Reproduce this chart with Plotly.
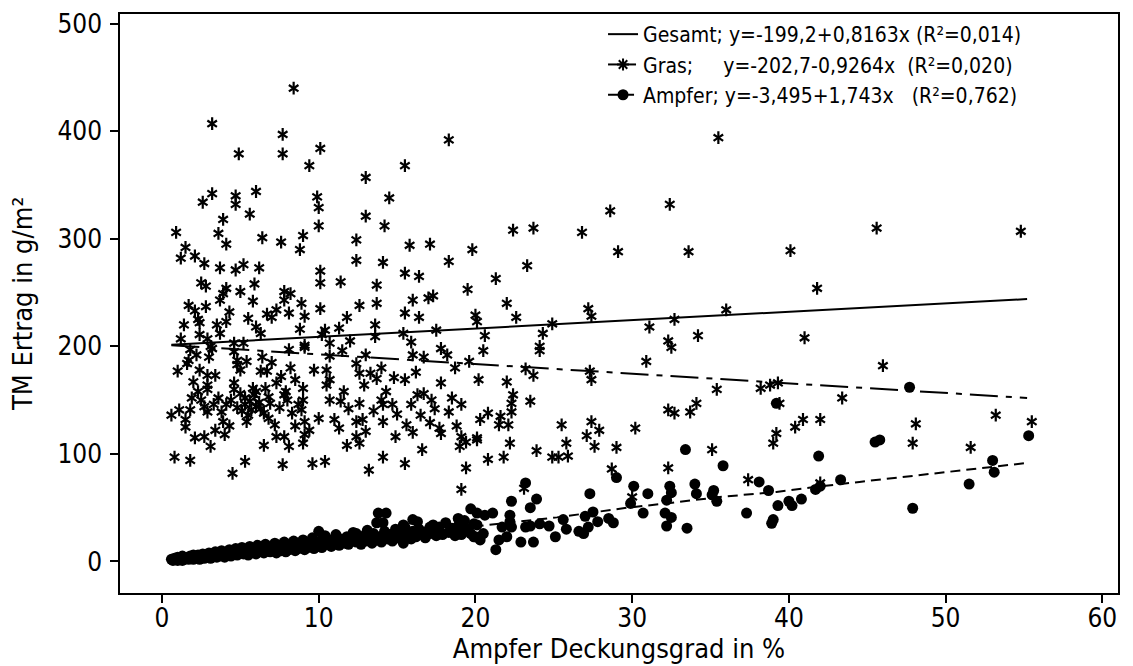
import plotly.graph_objects as go

# ---------------- data ----------------
gras_x = [
    8.4, 3.2, 7.7, 4.9, 7.7, 10.1, 9.4, 18.3, 15.5, 13.0, 2.6, 3.2, 4.7, 4.7, 6.0, 5.6, 3.9, 0.9, 3.6, 4.1,
    1.5, 1.2, 2.1, 2.7, 3.7, 4.7, 5.2, 6.2, 6.4, 7.6, 8.8, 9.0, 9.9, 10.0, 10.0, 13.0, 14.5, 14.2, 12.4, 12.4,
    14.1, 15.8, 17.1, 18.3, 19.8, 15.5, 16.4, 19.5, 10.1, 10.1, 11.4, 13.7, 2.5, 2.8, 4.1, 3.9, 5.0, 5.9, 3.7, 1.7,
    2.1, 2.8, 4.3, 5.8, 7.8, 8.2, 7.8, 8.9, 7.3, 7.0, 8.1, 9.1, 10.1, 11.8, 12.6, 13.7, 15.5, 16.4, 16.0, 17.0,
    17.3, 2.3, 1.4, 3.5, 6.0, 13.6, 20.0,
    2.4, 2.9, 2.4, 6.3, 8.8, 10.4, 10.2, 10.7, 11.3, 13.6, 15.4, 15.9, 17.5, 20.1, 3.1, 4.6, 5.2, 1.8, 4.6, 8.1,
    9.1, 10.7, 13.0, 16.0, 16.7, 17.8, 18.2,
    3.2, 9.1, 12.4, 12.6, 13.3, 14.0, 13.7, 20.2, 1.7, 1.6, 4.8, 4.8, 5.4, 2.4, 2.9, 3.4, 6.3, 6.7, 9.7, 10.5,
    15.5, 2.0, 2.9, 2.3, 2.9, 4.6, 4.6, 5.8, 6.0, 6.6, 6.8, 7.3, 7.8, 8.0, 8.5, 9.0, 9.0, 10.7, 10.5, 10.7,
    11.4, 14.3, 14.0, 14.7, 14.1, 16.3, 16.7, 17.2, 17.8, 18.5, 19.1, 12.6, 0.6, 1.1, 1.8, 2.7, 2.9, 3.8, 4.1, 4.8,
    5.3, 5.7, 6.0, 6.5, 1.5, 1.5, 5.4, 7.2, 8.9, 9.1, 9.4, 9.1, 9.0, 10.0, 11.0, 11.3, 12.4, 12.8, 13.0, 12.4,
    12.6, 11.8, 14.1, 14.9, 15.6, 16.5, 16.6, 17.1, 17.7, 17.8, 19.1, 19.4, 20.1, 19.4, 19.1, 2.1, 2.7, 3.4, 4.0, 3.1,
    6.5, 7.3, 7.8, 8.1, 0.8, 1.8, 5.3, 4.5, 7.7, 9.6, 10.4, 13.2, 14.1, 15.5, 19.0,
    5.0, 5.3, 5.6, 5.9, 6.2, 5.1, 5.5, 6.3, 4.4, 3.6, 3.3, 6.9, 7.5, 8.3, 2.5, 1.9, 3.9, 4.3, 6.8, 8.5,
    7.9, 8.7, 3.0, 2.2, 6.4, 7.0, 5.0, 7.6, 8.2, 11.5, 12.0, 3.7, 4.1, 5.5, 6.7, 1.2, 1.0, 11.9, 13.5, 15.0,
    15.9, 18.3, 17.4, 16.0, 18.8, 20.3, 11.6, 12.9, 14.8, 16.2, 18.7, 19.6, 20.5,
    35.5, 32.4, 28.6, 22.4, 23.7, 26.8, 29.1, 33.6, 40.1, 45.6, 23.3, 21.3, 41.8, 22.0, 22.6, 20.6, 24.9, 27.2, 27.4, 24.3,
    24.1, 24.1, 31.1, 32.7, 36.0, 34.2, 32.3, 32.5, 41.0, 30.9, 23.2, 23.7, 27.3, 27.4, 22.0, 38.8, 39.3, 38.2, 35.4, 46.0,
    39.4, 43.4, 39.2, 39.0, 40.4, 40.9, 42.0, 48.1, 47.9, 53.2, 51.6, 55.5, 37.4, 42.0, 22.4, 22.3, 22.3, 23.5, 20.8, 21.6,
    21.5, 22.1, 20.1, 22.2, 20.8, 21.8, 23.9, 24.9, 25.3, 25.9, 25.5, 25.8, 27.4, 27.9, 27.1, 27.6, 29.0, 30.2, 28.7, 32.3,
    32.7, 33.7, 34.1, 32.3, 35.1, 30.0, 23.1, 54.8,
]
gras_y = [
    440, 407, 397, 379, 379, 384, 368, 392, 368, 357, 334, 342, 340, 332, 344, 323, 318, 306, 305, 295,
    292, 282, 284, 277, 273, 271, 276, 273, 301, 297, 290, 303, 339, 329, 312, 321, 338, 312, 299, 280,
    278, 294, 295, 279, 290, 268, 265, 253, 270, 259, 260, 257, 259, 256, 254, 249, 251, 258, 243, 238,
    233, 237, 232, 242, 251, 249, 243, 240, 234, 227, 231, 228, 235, 227, 238, 240, 231, 227, 243, 245,
    247, 225, 220, 220, 218, 220, 229,
    211, 207, 222, 212, 216, 215, 211, 203, 217, 209, 212, 204, 215, 223, 200, 203, 203, 197, 195, 197,
    201, 191, 192, 192, 190, 198, 192,
    198, 199, 184, 175, 175, 180, 170, 169, 187, 184, 187, 183, 186, 178, 173, 173, 177, 177, 178, 178,
    169, 167, 164, 158, 160, 166, 160, 161, 158, 161, 153, 166, 155, 150, 169, 161, 150, 169, 164, 150,
    149, 158, 150, 146, 146, 155, 156, 150, 166, 152, 146, 147, 136, 141, 141, 144, 139, 139, 146, 143,
    146, 141, 144, 138, 132, 125, 130, 127, 141, 130, 122, 118, 110, 133, 132, 124, 130, 132, 121, 116,
    110, 108, 130, 116, 127, 136, 104, 129, 124, 119, 116, 111, 115, 87, 67, 115, 116, 122, 118, 107,
    108, 116, 116, 107, 97, 94, 93, 82, 90, 91, 93, 85, 97, 91, 107,
    156, 152, 149, 155, 148, 140, 136, 142, 150, 152, 146, 147, 143, 138, 150, 152, 130, 126, 133, 126,
    158, 146, 190, 192, 190, 185, 178, 172, 180, 196, 205, 212, 223, 226, 230, 207, 177, 142, 140, 137,
    146, 139, 142, 120, 126, 132, 158, 164, 171, 176, 180, 186, 196,
    394, 332, 326, 308, 310, 306, 288, 288, 289, 310, 275, 263, 254, 240, 227, 210, 221, 235, 228, 212,
    200, 196, 218, 225, 234, 210, 205, 199, 208, 186, 179, 173, 177, 169, 167, 164, 166, 161, 160, 182,
    147, 152, 119, 110, 125, 132, 132, 128, 110, 136, 106, 130, 76, 73, 155, 147, 139, 149, 138, 135,
    127, 127, 113, 110, 95, 97, 103, 97, 97, 98, 127, 110, 130, 122, 117, 107, 106, 124, 86, 141,
    138, 139, 147, 87, 104, 60, 68, 307,
]

ampfer_x = [
    0.6, 0.7, 0.8, 0.9, 1.0, 1.0, 1.1, 1.2, 1.3, 1.3, 1.4, 1.5, 1.6, 1.7, 1.8, 1.9, 2.0, 2.0,
    2.1, 2.2, 2.3, 2.4, 2.5, 2.6, 2.7, 2.8, 2.9, 3.0, 3.1, 3.2, 3.3, 3.4, 3.5, 3.6, 3.7, 3.8, 3.9, 4.0,
    4.1, 4.2, 4.3, 4.4, 4.5, 4.6, 4.7, 4.8, 4.9, 5.0, 5.1, 5.2, 5.3, 5.4, 5.5, 5.6, 5.7, 5.8, 5.9, 6.0,
    6.1, 6.2, 6.3, 6.4, 6.5, 6.6, 6.7, 6.8, 6.9, 7.0, 7.1, 7.2, 7.3, 7.4, 7.5, 7.6, 7.7, 7.8, 7.9, 8.0,
    8.1, 8.2, 8.3, 8.4, 8.5, 8.6, 8.7, 8.8, 8.9, 9.0, 9.1, 9.2, 9.3, 9.4, 9.5, 9.6, 9.7, 9.8, 9.9, 10.1,
    10.2, 10.4, 10.5, 10.7, 10.8, 11.0, 11.1, 11.3, 11.4, 11.6, 11.8, 11.9, 12.1, 12.2, 12.4, 12.6, 12.7, 12.9, 13.0, 13.2,
    13.4, 13.5, 13.7, 13.9, 14.0, 14.2, 14.4, 14.5, 14.7, 14.9, 15.0, 15.2, 15.4, 15.5, 15.7, 15.9, 16.0, 16.2, 16.4, 16.6,
    16.8, 17.0, 17.1, 17.3, 17.5, 17.7, 17.9, 18.1, 18.3, 18.5, 18.7, 18.9, 19.1, 19.3, 19.5, 19.7, 19.9,
    13.8, 14.3, 13.7, 14.1, 16.0, 16.3, 15.4, 13.1, 12.4, 10.0, 18.9, 17.1, 17.7, 18.4, 20.1, 19.9,
    55.3, 53.0, 53.1, 51.5, 47.9, 47.7, 45.5, 45.8, 41.9, 43.3, 41.7, 42.0, 40.8, 40.0, 40.2, 39.3, 39.0, 38.9, 37.3, 38.1,
    38.7, 39.2, 33.4, 35.8, 29.0, 30.1, 31.0, 32.4, 32.5, 32.2, 34.0, 34.1, 35.1, 35.2, 35.4, 29.9, 30.7, 32.1, 32.5, 32.2,
    33.5, 27.3, 27.5, 27.0, 27.2, 27.8, 28.5, 28.8, 25.6, 25.8, 24.7, 25.1, 26.6, 26.9, 24.1, 23.5, 23.2, 22.9, 23.7, 23.2,
    22.3, 23.9, 23.5, 22.2, 22.2, 22.3, 21.7, 22.0, 21.5, 21.3, 21.1, 20.6, 19.7, 20.1, 20.0, 20.5, 20.3, 19.2, 19.1,
]
ampfer_y = [
    2, 1, 3, 2, 1, 4, 2, 3, 1, 5, 2, 3, 4, 2, 5, 3, 6, 2,
    4, 3, 6, 2, 5, 7, 3, 6, 4, 8, 3, 6, 5, 9, 4, 7, 5, 10, 6, 4,
    8, 6, 11, 5, 7, 9, 12, 6, 8, 10, 13, 7, 9, 11, 6, 14, 8, 10, 12, 7,
    15, 9, 11, 13, 8, 16, 10, 12, 9, 14, 11, 17, 8, 13, 15, 10, 12, 18, 9, 14,
    11, 16, 13, 19, 10, 15, 12, 17, 14, 20, 11, 16, 13, 18, 15, 22, 12, 17, 14, 19,
    13, 24, 16, 20, 14, 18, 25, 15, 21, 17, 23, 16, 19, 27, 18, 22, 16, 24, 19, 21,
    17, 26, 20, 23, 18, 28, 21, 25, 19, 30, 22, 26, 17, 32, 24, 21, 28, 23, 30, 25,
    22, 29, 26, 34, 24, 28, 25, 36, 27, 31, 24, 33, 28, 38, 30, 26, 35,
    45, 45, 36, 36, 39, 37, 34, 29, 26, 28, 40, 32, 32, 29, 34, 23,
    117, 94, 83, 72, 49.5, 162, 111, 113, 98, 76, 67, 70, 58, 56, 52, 52, 39, 35.5, 45, 74,
    66, 147, 104, 89, 78, 70, 63, 70, 64, 57, 72, 63, 62, 66, 56, 54, 45, 45, 41, 33,
    31, 63, 46, 42, 32, 37, 40, 36, 39, 30, 33, 23, 28, 26, 35, 33, 32, 18, 18, 73,
    56, 58, 50, 43, 37, 32, 32, 23, 20, 11, 45, 43, 49, 45, 23, 26, 20, 32, 25,
]

# fitted lines as drawn in the picture
line_x = [0.6, 55.2]
gesamt_y = [201.5, 244.0]
gras_fit_y = [201.0, 152.0]
ampfer_fit_x = [0.6, 5, 10, 15, 19, 25.2, 29.7, 32.2, 35.6, 39.2, 41.5, 44.5, 50.5, 55.2]
ampfer_fit_y = [2, 8, 15, 23, 31, 41, 50, 54, 60, 64.6, 69, 74, 84, 91.6]

legend_names = [
    "Gesamt; y=-199,2+0,8163x (R²=0,014)",
    "Gras;\u00a0\u00a0\u00a0\u00a0\u00a0y=-202,7-0,9264x\u00a0\u00a0(R²=0,020)",
    "Ampfer; y=-3,495+1,743x\u00a0\u00a0\u00a0(R²=0,762)",
]

x_ticks = [0, 10, 20, 30, 40, 50, 60]
y_ticks = [0, 100, 200, 300, 400, 500]

FONT = "Tahoma, 'DejaVu Sans Condensed', 'Liberation Sans', Arial, sans-serif"
GRAS_DASH = "28px,8px,6px,8px"
AMPFER_DASH = "10px,6px"

fig = go.Figure()

# scatter points
fig.add_trace(go.Scatter(x=ampfer_x, y=ampfer_y, mode="markers", showlegend=False,
                         marker=dict(symbol="circle", size=11, color="black"), hoverinfo="skip"))
for sym in ["y-up-open", "y-down-open"]:
    fig.add_trace(go.Scatter(x=gras_x, y=gras_y, mode="markers", showlegend=False,
                             marker=dict(symbol=sym, size=8, color="black",
                                         line=dict(color="black", width=2.2)),
                             hoverinfo="skip"))

# fitted lines
fig.add_trace(go.Scatter(x=line_x, y=gesamt_y, mode="lines", showlegend=False,
                         line=dict(color="black", width=2)))
fig.add_trace(go.Scatter(x=line_x, y=gras_fit_y, mode="lines", showlegend=False,
                         line=dict(color="black", width=2, dash=GRAS_DASH)))
fig.add_trace(go.Scatter(x=ampfer_fit_x, y=ampfer_fit_y, mode="lines", showlegend=False,
                         line=dict(color="black", width=2, dash=AMPFER_DASH)))

# legend entries
fig.add_trace(go.Scatter(x=[None], y=[None], mode="lines", name=legend_names[0],
                         line=dict(color="black", width=2)))
fig.add_trace(go.Scatter(x=[None], y=[None], mode="lines+markers", name=legend_names[1],
                         line=dict(color="black", width=2, dash=GRAS_DASH),
                         marker=dict(symbol="asterisk-open", size=10, color="black",
                                     line=dict(color="black", width=2))))
fig.add_trace(go.Scatter(x=[None], y=[None], mode="lines+markers", name=legend_names[2],
                         line=dict(color="black", width=2, dash=AMPFER_DASH),
                         marker=dict(symbol="circle", size=11, color="black")))

axis_common = dict(showline=True, linecolor="black", linewidth=1.5, mirror=True,
                   ticks="outside", ticklen=8, tickwidth=1.5, tickcolor="black",
                   showgrid=False, zeroline=False, automargin=False,
                   tickfont=dict(family=FONT, size=26, color="black"))

fig.update_layout(
    width=1133, height=666,
    paper_bgcolor="white", plot_bgcolor="white",
    margin=dict(l=120, r=15, t=14, b=73),
    font=dict(family=FONT, color="black"),
    xaxis=dict(range=[-2.68, 61.0], tickvals=x_ticks, ticklabelstandoff=-7,
               title=dict(text="Ampfer Deckungsgrad in %", font=dict(family=FONT, size=27), standoff=6),
               **axis_common),
    yaxis=dict(range=[-29.3, 509], tickvals=y_ticks, ticklabelstandoff=3,
               title=dict(text="TM Ertrag in g/m²", font=dict(family=FONT, size=27), standoff=17),
               **axis_common),
    legend=dict(x=0.484, y=1.0, xanchor="left", yanchor="top",
                bgcolor="rgba(0,0,0,0)", borderwidth=0,
                font=dict(family=FONT, size=21, color="black")),
    showlegend=True,
)

fig.write_html("out.html", config={"displayModeBar": False},
               post_script="document.body.style.margin='0px';")
